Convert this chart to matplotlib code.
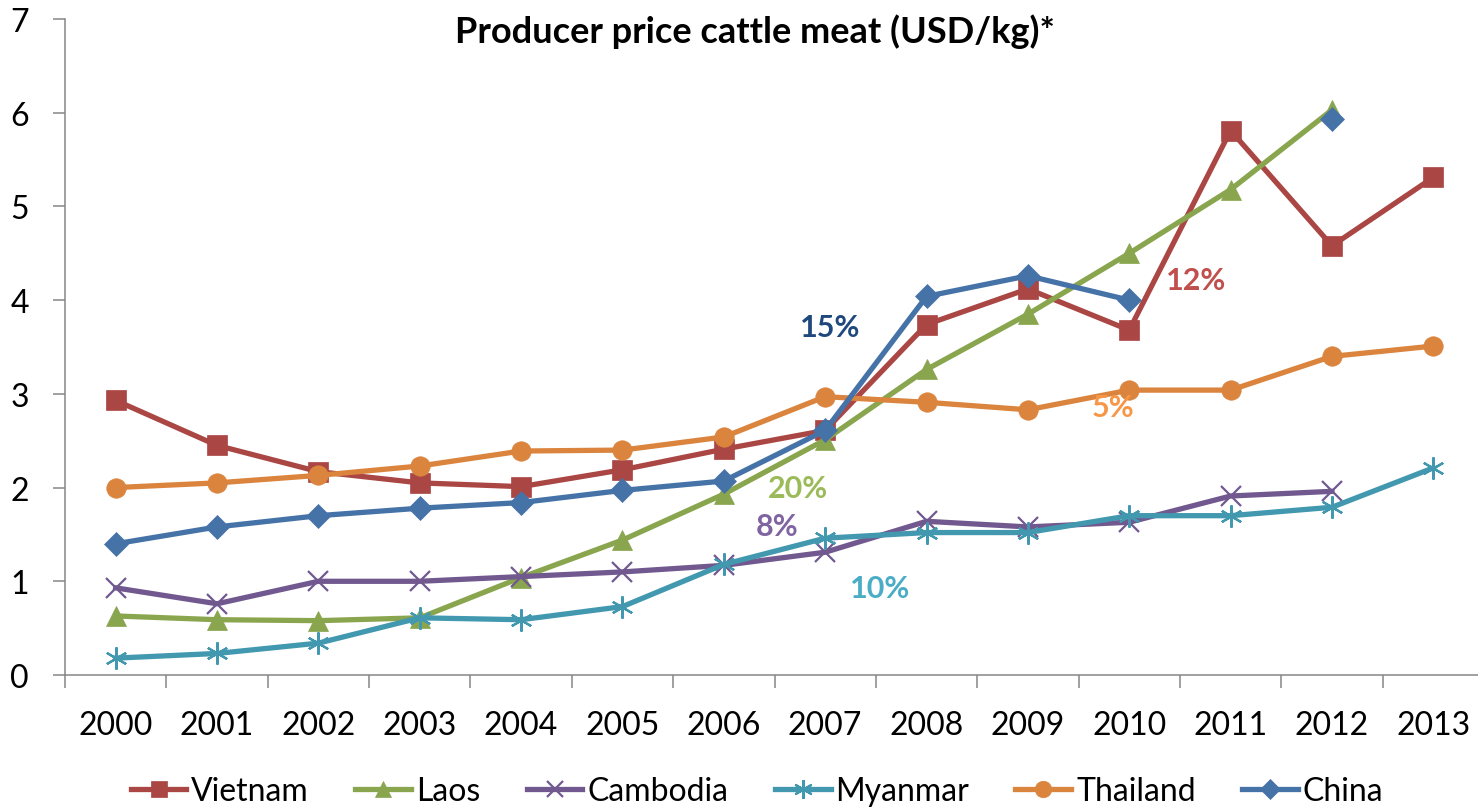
import numpy as np
import matplotlib
matplotlib.use("Agg")
import matplotlib.pyplot as plt

plt.rcParams['font.family'] = ['Lato', 'DejaVu Sans']

years = [str(y) for y in range(2000, 2014)]
nan = np.nan
vietnam = [2.93, 2.45, 2.17, 2.05, 2.01, 2.19, 2.41, 2.61, 3.74, 4.12, 3.68, 5.81, 4.58, 5.31]
laos = [0.63, 0.59, 0.58, 0.61, 1.04, 1.44, 1.93, 2.51, 3.26, 3.85, 4.50, 5.18, 6.03, nan]
cambodia = [0.93, 0.76, 1.00, 1.00, 1.05, 1.10, 1.17, 1.31, 1.64, 1.58, 1.63, 1.91, 1.96, nan]
myanmar = [0.18, 0.23, 0.34, 0.61, 0.59, 0.73, 1.18, 1.46, 1.52, 1.52, 1.70, 1.70, 1.79, 2.21]
thailand = [2.00, 2.05, 2.13, 2.23, 2.39, 2.40, 2.54, 2.97, 2.91, 2.83, 3.04, 3.04, 3.40, 3.51]
china = [1.40, 1.58, 1.70, 1.78, 1.84, 1.97, 2.07, 2.61, 4.04, 4.26, 4.00, nan, 5.93, nan]

series_names = ['Vietnam', 'Laos', 'Cambodia', 'Myanmar', 'Thailand', 'China']
series_values = [vietnam, laos, cambodia, myanmar, thailand, china]
growth_labels = ['12%', '20%', '8%', '10%', '5%', '15%']

colors = ['#AA4643', '#89A54E', '#71588F', '#4198AF', '#DB843D', '#4572A7']
label_colors = ['#C0504D', '#9BBB59', '#8064A2', '#4BACC6', '#F79646', '#1F497D']
markers = ['s', '^', 'x', (6, 2, 0), 'o', 'D']
msizes = [14, 14, 14, 16, 14, 12]
label_pos = [(10.66, 4.21), (6.73, 2.0), (6.53, 1.59), (7.54, 0.93), (9.84, 2.86), (7.05, 3.71)]

fig = plt.figure(figsize=(14.78, 8.12), dpi=100)
ax = fig.add_axes([65/1478, 1-676/812, 1419/1478, 656/812])

x = np.arange(len(years))
for name, vals, c, m, ms in zip(series_names, series_values, colors, markers, msizes):
    lined = m in ('x', (6, 2, 0))
    ax.plot(x, vals, color=c, lw=3.8, marker=m, markersize=ms,
            markerfacecolor=c, markeredgecolor=c,
            markeredgewidth=1.6 if lined else 0.5, label=name, clip_on=False)

for lab, c, (px, py) in zip(growth_labels, label_colors, label_pos):
    ax.text(px, py, lab, color=c, fontsize=22, fontweight='bold', ha='center', va='center')

ax.set_xlim(-0.5, len(years) - 0.5)
ax.set_ylim(0, 7)
ax.set_yticks(range(0, 8))
ax.set_xticks(x)
ax.set_xticklabels(years)
ax.set_xticks(np.arange(-0.5, len(years), 1.0), minor=True)
ax.tick_params(axis='x', which='major', length=0, pad=25, labelsize=23)
ax.tick_params(axis='x', which='minor', length=9, width=1.1, color='#868686', direction='out')
ax.tick_params(axis='y', length=9, width=1.1, color='#868686', direction='out', pad=17, labelsize=23)

for s in ['top', 'right']:
    ax.spines[s].set_visible(False)
for s in ['left', 'bottom']:
    ax.spines[s].set_color('#868686')
    ax.spines[s].set_linewidth(1.1)

fig.text(755/1478, 1-43/812, 'Producer price cattle meat (USD/kg)*', fontsize=26,
         fontweight='bold', ha='center', va='baseline')

leg = fig.legend(loc='center', bbox_to_anchor=(757/1478, 1-792/812), ncol=6, frameon=False,
                 fontsize=23, handlelength=1.75, handletextpad=0.15, columnspacing=1.45,
                 markerscale=0.85)

fig.savefig('out.png', dpi=100)
